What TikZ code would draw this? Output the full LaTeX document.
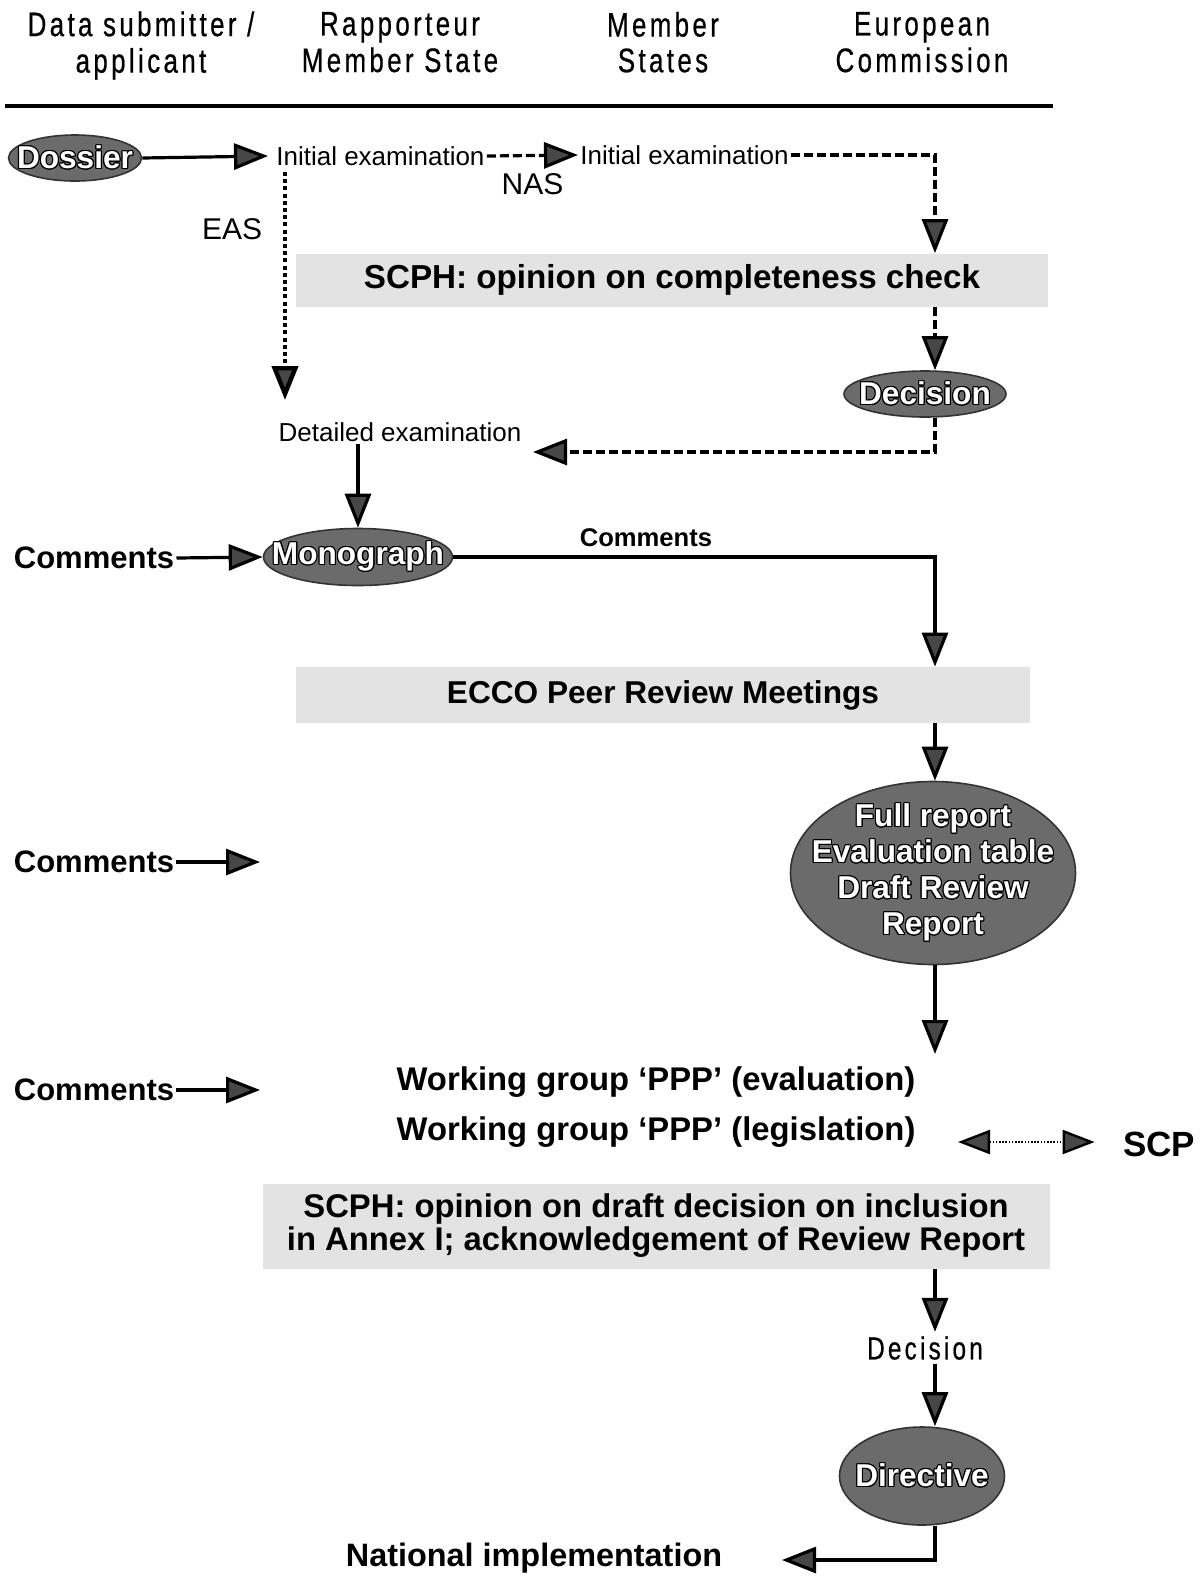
\documentclass[tikz,border=0pt]{standalone}
\usepackage{fontspec}
\setmainfont{Liberation Sans}
\newfontfamily\hdr[FakeStretch=0.76,LetterSpace=10,FakeBold=0.6]{Liberation Sans}
\usepackage[copies]{contour}
\contourlength{0.55pt}
\usetikzlibrary{arrows.meta,shapes.geometric}
\begin{document}
\begin{tikzpicture}[x=0.5pt,y=-0.5pt,
  hdrtext/.style={font=\hdr\fontsize{17}{16.5}\selectfont, align=center, inner sep=0pt},
  plain/.style={font=\fontsize{13}{15}\selectfont, inner sep=1pt},
  oval/.style={ellipse, draw=black!80, line width=0.8pt, fill=black!58, inner sep=0pt},
  ovaltext/.style={text=white, font=\bfseries\fontsize{15.8}{18}\selectfont, align=center, inner sep=0pt},
  panel/.style={fill=black!11, inner sep=0pt, font=\bfseries\fontsize{16.6}{18}\selectfont, align=center},
  boldtext/.style={font=\bfseries\fontsize{16.4}{18}\selectfont, inner sep=1pt},
  conn/.style={line width=1.6pt, -{Triangle[length=17pt,width=13pt,fill=black!72]}},
  dashconn/.style={conn, dash pattern=on 4.5pt off 2pt},
  dotconn/.style={conn, line width=2.2pt, dash pattern=on 2pt off 1.6pt},
  biconn/.style={line width=1.2pt, dash pattern=on 0.8pt off 0.8pt,
    {Triangle[length=16pt,width=12pt,fill=black!72]}-{Triangle[length=16pt,width=12pt,fill=black!72]}},
]
\useasboundingbox (0,0) rectangle (1203,1576);

% headers
\node[hdrtext] (h1) at (141,47) {\strut Data submitter /\\\strut applicant};
\node[hdrtext] (h2) at (400,47) {\strut Rapporteur\\\strut Member State};
\node[hdrtext] (h3) at (663,47) {\strut Member\\\strut States};
\node[hdrtext] (h4) at (922,47) {\strut European\\\strut Commission};
\draw[line width=2pt] (5,106) -- (1053,106);

\coordinate (rc) at (935,0);

% top row
\node[oval, minimum width=66.5pt, minimum height=23pt,
  label={[ovaltext]center:\contour{black}{Dossier}}] (dossier) at (75,158) {};
\node[plain, anchor=west] (ie1) at (274,156) {Initial examination};
\node[plain, anchor=west] (ie2) at (578,155) {Initial examination};
\draw[conn] (dossier.east) -- ([xshift=-3pt]ie1.west);
\draw[dashconn] (ie1.east) -- (ie2.west) node[midway, below=5pt, font=\fontsize{15}{17}\selectfont]{NAS};

\node[panel, minimum width=376pt, minimum height=26.5pt] (scph1) at (672,280) {SCPH: opinion on completeness check};
\draw[dashconn] (ie2.east) -| (rc |- scph1.north);

\node[oval, minimum width=81pt, minimum height=23pt,
  label={[ovaltext]center:\contour{black}{Decision}}] (dec) at (925,394) {};
\draw[dashconn] (rc |- scph1.south) -- (rc |- dec.north);

\node[plain] (de) at (400,432) {Detailed examination};
\coordinate (eastop) at (285,172);
\coordinate (easbot) at (285,400);
\draw[dotconn] (eastop) -- (easbot) node[pos=0.25, left=7pt, font=\fontsize{15}{17}\selectfont]{EAS};
\coordinate (detip) at (533,452);
\draw[dashconn] (rc |- dec.south) |- (detip);

% monograph
\node[oval, minimum width=94.5pt, minimum height=28.5pt,
  label={[ovaltext]center:\contour{black}{Monograph}}] (mono) at (358,557) {};
\draw[conn] (de.south -| mono.north) -- (mono.north);
\node[boldtext, font=\bfseries\fontsize{15.5}{17}\selectfont] (cm1) at (94,558) {Comments};
\draw[conn] (cm1.east) -- (mono.west);

\node[panel, minimum width=367pt, minimum height=28pt, font=\bfseries\fontsize{15.8}{18}\selectfont] (ecco) at (663,695) {ECCO Peer Review Meetings};
\draw[conn] (mono.east) -| (rc |- ecco.north) node[pos=0.2, above=1pt, font=\bfseries\fontsize{12.8}{14}\selectfont]{Comments};

% full report
\node[oval, minimum width=142.5pt, minimum height=91.5pt,
  label={[ovaltext, font=\bfseries\fontsize{15.8}{18}\selectfont]center:{\contour{black}{Full report}\\\contour{black}{Evaluation table}\\\contour{black}{Draft Review}\\\contour{black}{Report}}}] (fr) at (933,873) {};
\draw[conn] (rc |- ecco.south) -- (rc |- fr.north);
\coordinate (wgtip) at (935,1054);
\draw[conn] (rc |- fr.south) -- (wgtip);

\node[boldtext, font=\bfseries\fontsize{15.5}{17}\selectfont] (cm2) at (94,862) {Comments};
\coordinate (cm2tip) at (260,862);
\draw[conn] (cm2.east) -- (cm2tip);
\node[boldtext, font=\bfseries\fontsize{15.5}{17}\selectfont] (cm3) at (94,1090) {Comments};
\coordinate (cm3tip) at (260,1090);
\draw[conn] (cm3.east) -- (cm3tip);

\node[boldtext] (wg1) at (656,1082) {Working group `PPP' (evaluation)};
\node[boldtext] (wg2) at (656,1132) {Working group `PPP' (legislation)};

\node[boldtext, font=\bfseries\fontsize{17.5}{19}\selectfont] (scp) at (1159,1144) {SCP};
\coordinate (scpl) at (958,1142);
\draw[biconn] (scpl) -- ([xshift=-13pt,yshift=1pt]scp.west);

\node[panel, minimum width=393.5pt, minimum height=42.5pt, font=\bfseries\fontsize{16.4}{16.5}\selectfont] (scph2) at (656,1226) {SCPH: opinion on draft decision on inclusion\\in Annex I; acknowledgement of Review Report};

\node[font=\hdr\fontsize{16}{17}\selectfont, inner sep=2pt] (dec2) at (925,1348) {Decision};
\draw[conn] (rc |- scph2.south) -- (rc |- dec2.north);

\node[oval, minimum width=82.5pt, minimum height=49pt,
  label={[ovaltext]center:\contour{black}{Directive}}] (dir) at (922,1476) {};
\draw[conn] (rc |- dec2.south) -- (rc |- dir.north);

\node[boldtext, font=\bfseries\fontsize{16.2}{18}\selectfont] (ni) at (534,1558) {National implementation};
\coordinate (nitip) at (782,1560);
\draw[conn] (rc |- dir.south) |- (nitip);
\end{tikzpicture}
\end{document}
